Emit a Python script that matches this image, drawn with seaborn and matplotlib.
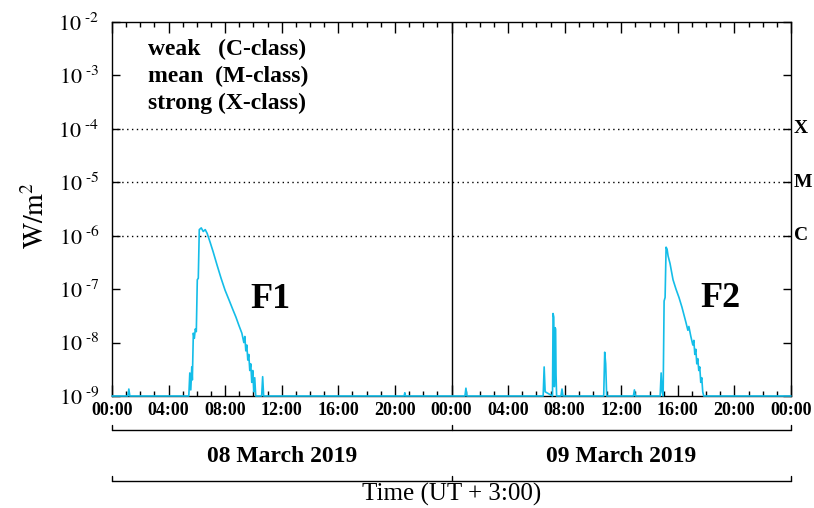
import matplotlib.pyplot as plt
import seaborn as sns
import numpy as np
from matplotlib.ticker import FixedLocator, NullLocator, FuncFormatter

# GOES X-ray flux, hours since 08 March 2019 00:00 (UT+3)
hours = [0.00, 1.12, 1.19, 1.26,
         5.43, 5.50, 5.57, 5.64, 5.68, 5.75, 5.82, 5.89, 5.96, 6.03, 6.10,
         6.17, 6.31, 6.45, 6.59, 6.73, 6.94, 7.15, 7.43, 7.71, 7.99, 8.27,
         8.55, 8.76, 8.97, 9.18, 9.32, 9.39, 9.46, 9.53, 9.60, 9.67, 9.74,
         9.81, 9.88, 9.95, 10.02, 10.09, 10.16, 10.58, 10.65, 10.72,
         20.65, 20.70, 20.75,
         24.95, 25.02, 25.09,
         30.48, 30.55, 30.62, 31.14, 31.18, 31.23, 31.27, 31.32, 31.36, 31.39,
         31.43, 31.74, 31.81, 31.88,
         34.76, 34.83, 34.90, 34.97, 36.86, 36.93, 37.00,
         38.75, 38.82, 38.89, 38.96, 39.03, 39.10, 39.17, 39.24, 39.31, 39.45,
         39.66, 39.87, 40.08, 40.29, 40.57, 40.71, 40.78, 40.92, 41.06, 41.13,
         41.20, 41.27, 41.34, 41.41, 41.48, 41.55, 41.62, 41.69, 41.76, 41.83,
         48.00]
flux = [1e-9, 1e-9, 1.35e-9, 1e-9,
        1e-9, 2.7e-9, 1.3e-9, 3.5e-9, 2e-9, 1.5e-8, 1.2e-8, 1.8e-8, 1.6e-8, 1.5e-7, 1.6e-7,
        1.3e-6, 1.4e-6, 1.2e-6, 1.3e-6, 1.1e-6, 7.5e-7, 5.0e-7, 2.8e-7, 1.6e-7, 9.6e-8, 6.3e-8,
        4.1e-8, 3.0e-8, 2.1e-8, 1.5e-8, 1.0e-8, 1.3e-8, 7e-9, 9e-9, 4.7e-9, 6e-9, 3e-9,
        4e-9, 1.8e-9, 3e-9, 1.2e-9, 2.2e-9, 1e-9, 1e-9, 2.3e-9, 1e-9,
        1e-9, 1.15e-9, 1e-9,
        1e-9, 1.4e-9, 1e-9,
        1e-9, 3.5e-9, 1.2e-9, 1e-9, 3.5e-8, 3.0e-8, 1.5e-9, 1.9e-8, 1.8e-8, 2.5e-9,
        1e-9, 1e-9, 1.35e-9, 1e-9,
        1e-9, 6.6e-9, 4e-9, 1e-9, 1e-9, 1.3e-9, 1e-9,
        1e-9, 2.7e-9, 1.2e-9, 1e-9, 6e-8, 7e-8, 6.1e-7, 5.6e-7, 4.2e-7, 3.0e-7,
        1.5e-7, 1.0e-7, 7e-8, 4.6e-8, 2.4e-8, 1.7e-8, 2.0e-8, 1.3e-8, 9e-9, 1.1e-8,
        6e-9, 7.5e-9, 4e-9, 5e-9, 3e-9, 3.5e-9, 1.8e-9, 2.2e-9, 1.2e-9, 1e-9,
        1e-9]

class_levels = [1e-4, 1e-5, 1e-6]
class_names = ['X', 'M', 'C']
tick_hours = list(range(0, 49, 4))
tick_labels = ['00:00', '04:00', '08:00', '12:00', '16:00', '20:00'] * 2 + ['00:00']
days = ['08 March 2019', '09 March 2019']

sns.set_style("ticks")
plt.rcParams['font.family'] = ['Liberation Serif', 'DejaVu Serif']
plt.rcParams['mathtext.fontset'] = 'stix'
plt.rcParams['text.color'] = 'k'
plt.rcParams['xtick.color'] = 'k'
plt.rcParams['ytick.color'] = 'k'

fig = plt.figure(figsize=(8.14, 5.08), dpi=100)
ax = fig.add_axes([112/814, 1 - 396/508, 679/814, 374/508])

cyan = '#14BDE8'
sns.lineplot(x=hours, y=flux, ax=ax, color=cyan, lw=1.2, estimator=None,
             sort=False, zorder=3, clip_on=False)
ax.set_yscale('log')
ax.set_ylim(1e-9, 1e-2)
ax.set_xlim(0, 48)

for lvl in class_levels:
    ax.axhline(lvl, color='k', lw=1, ls=(0, (1, 2.5)), zorder=1)
ax.axvline(24, color='k', lw=1, zorder=1)

# axis ticks
ax.xaxis.set_major_locator(FixedLocator(tick_hours))
ax.xaxis.set_minor_locator(FixedLocator(range(0, 49)))
ax.set_xticklabels(tick_labels, fontsize=13, fontweight='bold')
ax.yaxis.set_major_locator(FixedLocator([10.0**k for k in range(-9, -1)]))
ax.yaxis.set_minor_locator(NullLocator())
ax.yaxis.set_major_formatter(
    FuncFormatter(lambda v, p: r'$10^{\text{ -%d}}$' % abs(round(np.log10(v)))))
ax.tick_params(axis='x', which='major', direction='in', length=8, width=1,
               top=True, pad=4, colors='k')
ax.tick_params(axis='x', which='minor', direction='in', length=3.5, width=1, top=True,
               colors='k')
ax.tick_params(axis='y', which='major', direction='in', length=6, width=1,
               right=True, labelsize=16, pad=9, colors='k')
for s in ax.spines.values():
    s.set_color('k')
    s.set_linewidth(1)
ax.set_xlabel('')
ax.set_ylabel('')

# class labels on the right
for lvl, name in zip(class_levels, class_names):
    ax.text(1.004, lvl, name, transform=ax.get_yaxis_transform(), ha='left',
            va='center', fontsize=14, fontweight='bold', color='k')

# flare labels
ax.text(11.2, 6.3e-8, 'F1', fontsize=26, fontweight='bold', ha='center', va='center', color='k')
ax.text(43.0, 6.8e-8, 'F2', fontsize=26, fontweight='bold', ha='center', va='center', color='k')

# class legend text
fig.text(148/814, 1 - 55/508, 'weak   (C-class)', fontsize=17, fontweight='bold', va='baseline')
fig.text(148/814, 1 - 82/508, 'mean  (M-class)', fontsize=17, fontweight='bold', va='baseline')
fig.text(148/814, 1 - 109/508, 'strong (X-class)', fontsize=17, fontweight='bold', va='baseline')

fig.text(36/814, 1 - 215/508, r'$\mathrm{W/m^2}$', fontsize=20, rotation=90,
         ha='center', va='center')

# date brackets under the axis
tr = ax.get_xaxis_transform()
y1, y1t = -(430 - 396)/374, -(425 - 396)/374
y2, y2t = -(481 - 396)/374, -(476 - 396)/374
ax.plot([0, 48], [y1, y1], transform=tr, color='k', lw=1, clip_on=False)
ax.plot([0, 48], [y2, y2], transform=tr, color='k', lw=1, clip_on=False)
for xv in [0, 24, 48]:
    ax.plot([xv, xv], [y1, y1t], transform=tr, color='k', lw=1, clip_on=False)
    ax.plot([xv, xv], [y2, y2t], transform=tr, color='k', lw=1, clip_on=False)
for i, d in enumerate(days):
    ax.text(12 + 24*i, -(456 - 396)/374, d, transform=tr, ha='center', va='center',
            fontsize=17, fontweight='bold')
ax.text(24, -(494 - 396)/374, 'Time (UT + 3:00)', transform=tr, ha='center',
        va='center', fontsize=18)

fig.savefig('out.png', dpi=100)
